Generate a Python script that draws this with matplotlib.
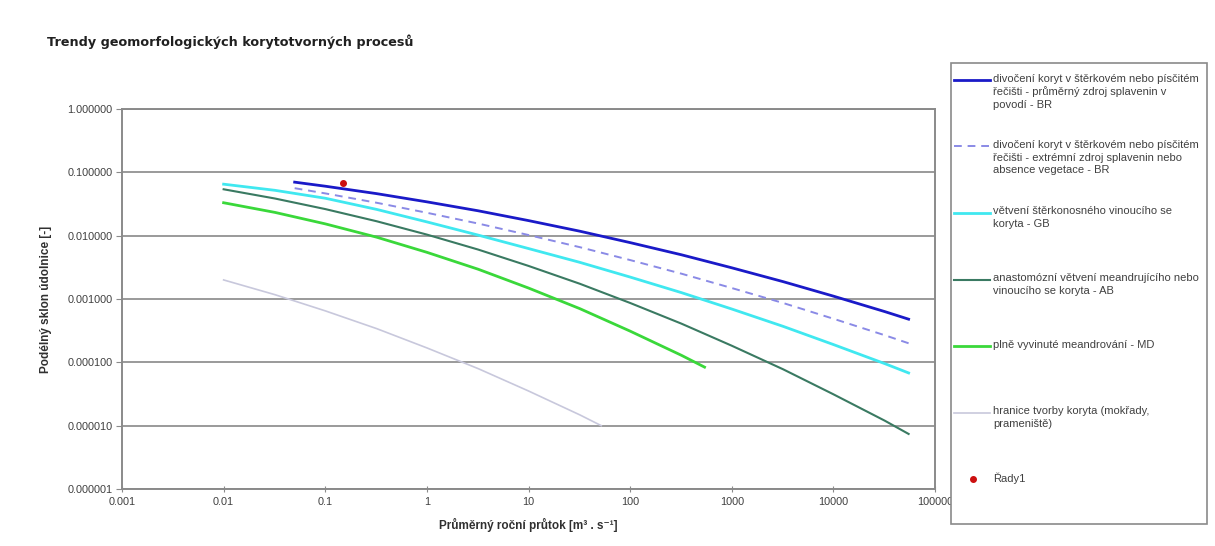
import matplotlib.pyplot as plt
from matplotlib.lines import Line2D
from matplotlib.patches import Rectangle

x_br = [0.05, 0.1, 0.32, 1, 3.2, 10, 32, 100, 320, 1000, 3200, 10000, 32000, 55000]
y_br = [0.070, 0.0604, 0.0461, 0.0342, 0.0247, 0.0173, 0.01176, 0.00777, 0.00499, 0.00311,
        0.00188, 0.00111, 0.000633, 0.00048]

x_br_ext = [0.05, 0.1, 0.32, 1, 3.2, 10, 32, 100, 320, 1000, 3200, 10000, 32000, 55000]
y_br_ext = [0.0562, 0.0465, 0.0331, 0.0230, 0.01553, 0.01024, 0.00658, 0.00412, 0.00251, 0.00149,
            0.000865, 0.000488, 0.000268, 0.0002]

x_gb = [0.01, 0.032, 0.1, 0.32, 1, 3.2, 10, 32, 100, 320, 1000, 3200, 10000, 32000, 55000]
y_gb = [0.065, 0.052, 0.039, 0.026, 0.0165, 0.0102, 0.00626, 0.00379, 0.00222, 0.00126, 0.000695,
        0.00037, 0.000191, 0.0000955, 0.000068]

x_ab = [0.01, 0.032, 0.1, 0.32, 1, 3.2, 10, 32, 100, 320, 1000, 3200, 10000, 32000, 55000]
y_ab = [0.054, 0.0386, 0.0263, 0.0169, 0.0104, 0.00603, 0.00333, 0.00174, 0.000866, 0.000408,
        0.000183, 0.0000777, 0.0000313, 0.000012, 0.0000074]

x_md = [0.01, 0.032, 0.1, 0.32, 1, 3.2, 10, 32, 100, 320, 540]
y_md = [0.0331, 0.0233, 0.01536, 0.00947, 0.00546, 0.00295, 0.00149, 0.000704, 0.000311, 0.000129, 0.000084]

x_hr = [0.01, 0.032, 0.1, 0.32, 1, 3.2, 10, 32, 52]
y_hr = [0.002, 0.00117, 0.00065, 0.000341, 0.000169, 0.0000795, 0.0000353, 0.0000148, 0.00001]

x_rady = [0.15]
y_rady = [0.067]

labels = [
    "divočení koryt v štěrkovém nebo písčitém\nřečišti - průměrný zdroj splavenin v\npovodí - BR",
    "divočení koryt v štěrkovém nebo písčitém\nřečišti - extrémní zdroj splavenin nebo\nabsence vegetace - BR",
    "větvení štěrkonosného vinoucího se\nkoryta - GB",
    "anastomózní větvení meandrujícího nebo\nvinoucího se koryta - AB",
    "plně vyvinuté meandrování - MD",
    "hranice tvorby koryta (mokřady,\nprameniště)",
    "Řady1",
]
colors = ['#1a1ac8', '#8a8ae6', '#40e8f0', '#3a7a62', '#3ad83a', '#c8c8dc', '#cc1010']
styles = ['-', (0, (4, 3)), '-', '-', '-', '-', None]
widths = [2.0, 1.4, 2.0, 1.5, 2.0, 1.2, 0]

xticks = [0.001, 0.01, 0.1, 1, 10, 100, 1000, 10000, 100000]
xticklabels = ['0.001', '0.01', '0.1', '1', '10', '100', '1000', '10000', '100000']
yticks = [1e-6, 1e-5, 1e-4, 1e-3, 1e-2, 1e-1, 1]

plt.rcParams['font.family'] = ['Liberation Sans', 'DejaVu Sans']

fig = plt.figure(figsize=(12.15, 5.46), dpi=100)
ax = fig.add_axes([122 / 1215, 1 - 489 / 546, (935 - 122) / 1215, (489 - 109) / 546])

series = [(x_br, y_br), (x_br_ext, y_br_ext), (x_gb, y_gb), (x_ab, y_ab), (x_md, y_md), (x_hr, y_hr)]
for (xs, ys), c, ls, lw in zip(series, colors, styles, widths):
    ax.plot(xs, ys, color=c, linestyle=ls, linewidth=lw, zorder=3)
ax.plot(x_rady, y_rady, 'o', color=colors[6], markersize=4, zorder=4)

ax.set_xscale('log')
ax.set_yscale('log')
ax.set_xlim(0.001, 100000)
ax.set_ylim(1e-6, 1)
ax.set_xticks(xticks)
ax.set_xticklabels(xticklabels)
ax.set_yticks(yticks)
ax.set_yticklabels(['%.6f' % v for v in yticks])
ax.minorticks_off()
ax.grid(axis='y', color='#9a9a9a', linewidth=1.4)
ax.set_axisbelow(True)
for s in ax.spines.values():
    s.set_color('#8a8a8a')
    s.set_linewidth(1.4)
ax.tick_params(axis='y', direction='out', length=4, color='#8a8a8a', labelsize=7.8, labelcolor='#404040', pad=3)
ax.tick_params(axis='x', direction='inout', length=5, color='#8a8a8a', labelsize=7.8, labelcolor='#404040', pad=3)

ax.set_xlabel('Průměrný roční průtok [m³ . s⁻¹]', fontsize=8.5, fontweight='bold', color='#303030', labelpad=8)
ax.set_ylabel('Podélný sklon údolnice [-]', fontsize=8.5, fontweight='bold', color='#303030', labelpad=11)

fig.text(47 / 1215, 1 - 42 / 546, 'Trendy geomorfologických korytotvorných procesů', fontsize=9.2,
         fontweight='bold', color='#202020', ha='left', va='center', family=['DejaVu Sans'])

# legend drawn by hand, Excel style (handle next to first line)
W, H = 1215.0, 546.0
fig.add_artist(Rectangle((951 / W, 1 - 524 / H), (1207 - 951) / W, (524 - 63) / H, transform=fig.transFigure,
                         facecolor='white', edgecolor='#8a8a8a', linewidth=1.2))
for i, lab in enumerate(labels):
    yy = 1 - (80 + i * 66.5) / H
    if styles[i] is None:
        fig.add_artist(Line2D([973 / W], [yy], marker='o', color=colors[i], markersize=4, linestyle='none',
                              transform=fig.transFigure))
    else:
        fig.add_artist(Line2D([954 / W, 990 / W], [yy, yy], color=colors[i], linestyle=styles[i],
                              linewidth=widths[i], transform=fig.transFigure))
    fig.text(993 / W, yy + 6.5 / H, lab, fontsize=8, color='#404040', ha='left', va='top', linespacing=1.32)

fig.savefig('out.png', dpi=100)
